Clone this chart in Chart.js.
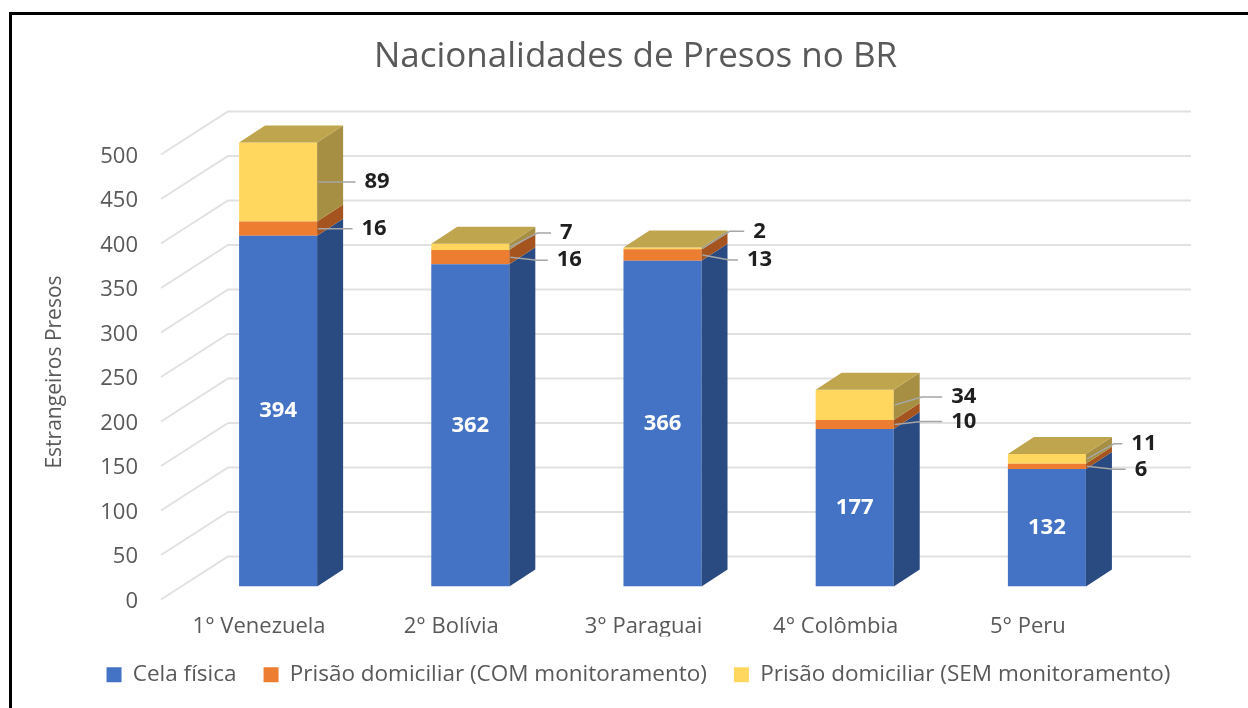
<!DOCTYPE html>
<html lang="pt-BR">
  <head>
    <meta charset="UTF-8" />
    <title>Nacionalidades de Presos no BR</title>
    <script src="https://cdn.jsdelivr.net/npm/chart.js@4"></script>
    <style>
      html, body { margin: 0; padding: 0; background: #fff; overflow: hidden; }
      #wrap { position: relative; width: 1248px; height: 708px; filter: blur(0.5px); }
      #frame { position: absolute; left: 9px; top: 12px; width: 1300px; height: 800px; border-left: 3px solid #000; border-top: 3px solid #000; }
      canvas { position: absolute; left: 0; top: 0; }
    </style>
  </head>
  <body>
    <div id="wrap">
      <div id="frame"></div>
      <canvas id="presosChart" width="1248" height="708"></canvas>
    </div>
    <script>
      const categories = ["1° Venezuela", "2° Bolívia", "3° Paraguai", "4° Colômbia", "5° Peru"];
      const celaFisica = [394, 362, 366, 177, 132];
      const comMonitoramento = [16, 16, 13, 10, 6];
      const semMonitoramento = [89, 7, 2, 34, 11];

      const FONT = "'Open Sans', sans-serif";
      const GREY = "#595959";
      const DEPTH_X = 26;
      const DEPTH_Y = -17;

      // cores das faces laterais e do topo (mesma ordem das series)
      const sideColors = ["#2a4a82", "#a5541f", "#a68f42"];
      const topColor = "#bfa54d";

      // deslocamento dos rotulos externos a partir da borda direita da barra: [dx, dy]
      const comLabelPos = [[57, 0], [60, 3], [58, 5], [70, -3], [55, 3]];
      const semLabelPos = [[60, 0], [57, -14], [58, -17], [70, -8], [58, -15]];

      const box3d = {
        id: "box3d",
        afterLayout(chart) {
          // titulo e legenda centrados na imagem, nao na area do grafico
          chart.titleBlock.left = 0;
          chart.titleBlock.right = 1271;
          chart.legend.left = 0;
          chart.legend.right = 1277;
          // titulo do eixo y fica um pouco abaixo do meio do eixo
          const y = chart.scales.y;
          const drawTitle = y.drawTitle;
          y.drawTitle = function () {
            chart.ctx.save();
            chart.ctx.translate(0, 8);
            drawTitle.call(y);
            chart.ctx.restore();
          };
        },
        beforeDatasetsDraw(chart) {
          const { ctx, scales } = chart;
          ctx.save();
          ctx.strokeStyle = "#e1e1e1";
          ctx.lineWidth = 2;
          scales.y.ticks.forEach(function (t) {
            const py = scales.y.getPixelForValue(t.value);
            ctx.beginPath();
            ctx.moveTo(161, py + 13);
            ctx.lineTo(228, py - 30);
            ctx.lineTo(1191, py - 30);
            ctx.stroke();
          });
          ctx.restore();
        },
        afterDatasetsDraw(chart) {
          const { ctx } = chart;
          ctx.save();
          chart.data.datasets.forEach(function (ds, i) {
            chart.getDatasetMeta(i).data.forEach(function (bar) {
              const right = bar.x + bar.width / 2;
              const left = bar.x - bar.width / 2;
              ctx.fillStyle = sideColors[i];
              ctx.beginPath();
              ctx.moveTo(right, bar.y);
              ctx.lineTo(right + DEPTH_X, bar.y + DEPTH_Y);
              ctx.lineTo(right + DEPTH_X, bar.base + DEPTH_Y);
              ctx.lineTo(right, bar.base);
              ctx.closePath();
              ctx.fill();
              if (i === chart.data.datasets.length - 1) {
                ctx.fillStyle = topColor;
                ctx.beginPath();
                ctx.moveTo(left, bar.y);
                ctx.lineTo(left + DEPTH_X, bar.y + DEPTH_Y);
                ctx.lineTo(right + DEPTH_X, bar.y + DEPTH_Y);
                ctx.lineTo(right, bar.y);
                ctx.closePath();
                ctx.fill();
              }
            });
          });

          ctx.font = "bold 22px " + FONT;
          ctx.textAlign = "center";
          ctx.textBaseline = "middle";

          // rotulos internos da cela fisica
          chart.getDatasetMeta(0).data.forEach(function (bar, k) {
            ctx.fillStyle = "#fff";
            ctx.fillText(celaFisica[k], bar.x, (bar.y + bar.base) / 2);
          });

          // rotulos externos com linha guia
          [[1, comMonitoramento, comLabelPos], [2, semMonitoramento, semLabelPos]].forEach(function (row) {
            chart.getDatasetMeta(row[0]).data.forEach(function (bar, k) {
              const right = bar.x + bar.width / 2;
              const midY = (bar.y + bar.base) / 2;
              const tx = right + row[2][k][0];
              const ty = midY + row[2][k][1];
              const tw = ctx.measureText(row[1][k]).width;
              ctx.strokeStyle = "#a6a6a6";
              ctx.lineWidth = 1.5;
              ctx.beginPath();
              ctx.moveTo(right + 1, midY);
              ctx.lineTo(right + 28, ty);
              ctx.lineTo(tx - tw / 2 - 9, ty);
              ctx.stroke();
              ctx.fillStyle = "#1f1f1f";
              ctx.fillText(row[1][k], tx, ty);
            });
          });
          ctx.restore();
        },
      };

      const myChart = new Chart(document.querySelector("#presosChart").getContext("2d"), {
        type: "bar",
        data: {
          labels: categories,
          datasets: [
            { label: "Cela física", data: celaFisica, backgroundColor: "#4472c4" },
            { label: "Prisão domiciliar (COM monitoramento)", data: comMonitoramento, backgroundColor: "#ed7d31" },
            { label: "Prisão domiciliar (SEM monitoramento)", data: semMonitoramento, backgroundColor: "#ffd75f" },
          ],
        },
        options: {
          responsive: false,
          animation: false,
          layout: { padding: { left: 0, right: 105, top: 0, bottom: 12 } },
          datasets: { bar: { categoryPercentage: 1, barPercentage: 0.406 } },
          plugins: {
            title: {
              display: true,
              text: "Nacionalidades de Presos no BR",
              color: GREY,
              font: { family: FONT, size: 35, weight: "normal" },
              padding: { top: 36, bottom: 63.5 },
            },
            legend: {
              position: "bottom",
              labels: {
                color: GREY,
                font: { family: FONT, size: 22.5 },
                boxWidth: 15,
                boxHeight: 15,
                padding: 27,
              },
            },
            tooltip: { enabled: false },
          },
          scales: {
            x: {
              stacked: true,
              grid: { display: false, drawTicks: false },
              border: { display: false },
              ticks: { color: GREY, font: { family: FONT, size: 22 }, padding: 27, labelOffset: -19, maxRotation: 0 },
              afterFit(scale) { scale.height = 50; },
            },
            y: {
              stacked: true,
              min: 0,
              max: 500,
              grid: { display: false, drawTicks: false },
              border: { display: false },
              ticks: { stepSize: 50, color: GREY, font: { family: FONT, size: 22 }, padding: 44, labelOffset: 15 },
              title: { display: true, text: "Estrangeiros Presos", color: GREY, font: { family: FONT, size: 21 }, padding: { top: 42, bottom: 0 } },
              afterFit(scale) { scale.width = 182; },
            },
          },
        },
        plugins: [box3d],
      });
    </script>
  </body>
</html>
